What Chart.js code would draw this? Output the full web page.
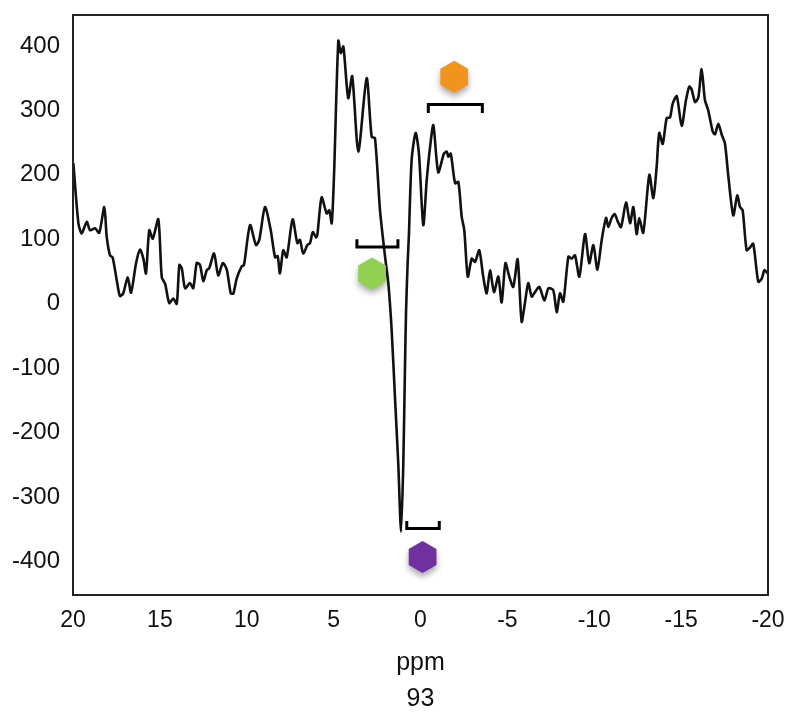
<!DOCTYPE html>
<html>
<head>
<meta charset="utf-8">
<script src="https://cdn.jsdelivr.net/npm/chart.js@4"></script>
<style>
  html, body { margin: 0; padding: 0; background: #fff; }
  #wrap { width: 789px; height: 717px; }
</style>
</head>
<body>
<div id="wrap"><canvas id="spec"></canvas></div>
<script>
// spectrum (ppm, intensity)
const ppm = [
  19.98,19.69,19.50,19.21,19.02,18.73,18.49,18.20,18.06,17.87,
  17.72,17.48,17.30,17.11,16.85,16.66,16.37,16.14,15.95,15.80,
  15.61,15.41,15.09,14.89,14.70,14.46,14.23,14.03,13.88,13.74,
  13.55,13.27,13.08,12.88,12.69,12.50,12.30,12.16,11.88,11.64,
  11.38,11.15,10.92,10.77,10.58,10.29,10.16,9.81,9.47,9.28,
  8.95,8.62,8.37,8.22,8.09,7.90,7.70,7.36,7.09,6.94,
  6.75,6.51,6.36,6.20,6.01,5.94,5.69,5.40,5.25,5.11,
  4.98,4.73,4.59,4.44,4.16,3.93,3.58,3.10,2.81,2.62,
  2.33,2.04,1.85,1.66,1.47,1.28,1.12,0.99,0.89,0.83,
  0.74,0.67,0.51,0.28,0.09,-0.16,-0.36,-0.55,-0.74,-1.02,
  -1.35,-1.51,-1.60,-1.74,-1.99,-2.18,-2.37,-2.52,-2.72,-2.95,
  -3.14,-3.38,-3.61,-3.81,-4.00,-4.23,-4.48,-4.67,-4.89,-5.11,
  -5.34,-5.59,-5.82,-6.01,-6.20,-6.40,-6.59,-6.84,-7.13,-7.36,
  -7.64,-7.84,-8.03,-8.22,-8.51,-8.70,-8.89,-9.14,-9.47,-9.71,
  -9.95,-10.18,-10.43,-10.68,-10.81,-11.00,-11.19,-11.33,-11.54,-11.83,
  -12.06,-12.25,-12.44,-12.59,-12.82,-13.17,-13.40,-13.59,-13.74,-13.94,
  -14.17,-14.36,-14.52,-14.75,-15.03,-15.28,-15.47,-15.61,-15.80,-15.99,
  -16.18,-16.37,-16.56,-16.82,-16.95,-17.14,-17.34,-17.52,-17.72,-18.00,
  -18.23,-18.39,-18.54,-18.77,-18.96,-19.15,-19.44,-19.64,-19.79,-19.98
];
const intensity = [
  218,125,109,127,114,117,110,150,104,75,
  72,36,12,16,41,17,63,84,70,47,
  114,101,131,41,31,1,8,0,60,55,
  24,32,24,63,60,35,52,55,78,44,
  63,53,16,16,39,58,60,122,91,99,
  150,114,72,74,47,83,72,131,94,99,
  78,91,94,111,103,106,165,140,145,125,
  197,408,389,399,319,353,236,350,259,257,
  145,73,31,-41,-145,-248,-354,-248,-93,-10,
  63,105,223,265,233,122,192,243,277,204,
  233,236,228,233,187,189,135,114,42,70,
  65,83,42,16,52,18,42,2,63,42,
  26,69,-28,1,32,11,18,26,5,24,
  21,-13,16,3,73,70,75,42,108,63,
  91,53,99,133,119,133,139,129,119,157,
  125,150,108,133,110,200,164,212,265,248,
  288,289,311,322,276,316,337,332,313,320,
  364,316,300,267,263,279,262,249,197,137,
  168,150,145,83,87,93,34,39,52,47
];

const xTicks = [20, 15, 10, 5, 0, -5, -10, -15, -20];
const yTicks = [400, 300, 200, 100, 0, -100, -200, -300, -400];
const xTitle = ['ppm', '93'];

// brackets: [from ppm, to ppm, bar value, tip value]
const bracketFrom = [3.66, -0.45, 0.79];
const bracketTo = [1.30, -3.56, -1.08];
const bracketBar = [88, 309, -349];
const bracketTip = [100, 296, -337];

// hexagon markers
const markerPpm = [2.79, -1.94, -0.12];
const markerVal = [47, 352, -393];
const markerColor = ['#92d050', '#f0941b', '#7030a0'];

const points = ppm.map((p, i) => ({ x: p, y: intensity[i] }));
const font = 'Liberation Sans, Arial, sans-serif';

const extras = {
  id: 'extras',
  afterDatasetsDraw(chart) {
    const { ctx, chartArea: a, scales: { x, y } } = chart;
    ctx.save();
    // brackets
    ctx.strokeStyle = '#000';
    ctx.lineWidth = 3;
    for (let i = 0; i < bracketFrom.length; i++) {
      const x1 = x.getPixelForValue(bracketFrom[i]);
      const x2 = x.getPixelForValue(bracketTo[i]);
      const yb = y.getPixelForValue(bracketBar[i]);
      const yt = y.getPixelForValue(bracketTip[i]);
      ctx.beginPath();
      ctx.moveTo(x1, yt);
      ctx.lineTo(x1, yb);
      ctx.lineTo(x2, yb);
      ctx.lineTo(x2, yt);
      ctx.stroke();
    }
    // hexagons
    const r = 16;
    for (let i = 0; i < markerPpm.length; i++) {
      const cx = x.getPixelForValue(markerPpm[i]);
      const cy = y.getPixelForValue(markerVal[i]);
      ctx.save();
      ctx.shadowColor = 'rgba(0,0,0,0.35)';
      ctx.shadowBlur = 6;
      ctx.shadowOffsetY = 4;
      ctx.fillStyle = markerColor[i];
      ctx.beginPath();
      for (let k = 0; k < 6; k++) {
        const ang = -Math.PI / 2 + k * Math.PI / 3;
        const px = cx + r * Math.cos(ang);
        const py = cy + r * Math.sin(ang);
        if (k === 0) ctx.moveTo(px, py); else ctx.lineTo(px, py);
      }
      ctx.closePath();
      ctx.fill();
      ctx.restore();
    }
    // frame
    ctx.strokeStyle = '#222';
    ctx.lineWidth = 2;
    ctx.strokeRect(a.left, a.top, a.right - a.left, a.bottom - a.top);
    ctx.restore();
  }
};

new Chart(document.getElementById('spec'), {
  type: 'line',
  data: {
    datasets: [{
      data: points,
      borderColor: '#111',
      borderWidth: 2.6,
      pointRadius: 0,
      tension: 0.25,
      fill: false
    }]
  },
  options: {
    responsive: true,
    maintainAspectRatio: false,
    animation: false,
    layout: { padding: { top: 15, right: 21, left: 0, bottom: 0 } },
    plugins: { legend: { display: false }, tooltip: { enabled: false } },
    scales: {
      x: {
        type: 'linear',
        reverse: true,
        min: -20,
        max: 20,
        grid: { display: false, drawTicks: false },
        border: { display: false },
        afterBuildTicks: s => { s.ticks = xTicks.map(v => ({ value: v })); },
        afterFit: s => { s.height = 122; s.paddingLeft = 0; s.paddingRight = 0; },
        ticks: {
          padding: 12,
          color: '#111',
          font: { family: font, size: 23 },
          maxRotation: 0
        },
        title: {
          display: true,
          text: xTitle,
          color: '#111',
          padding: 0,
          font: { family: font, size: 25, lineHeight: 1.45 }
        }
      },
      y: {
        min: -452,
        max: 448,
        grid: { display: false, drawTicks: false },
        border: { display: false },
        afterBuildTicks: s => { s.ticks = yTicks.map(v => ({ value: v })); },
        afterFit: s => { s.width = 73; s.paddingTop = 0; s.paddingBottom = 0; },
        ticks: {
          padding: 13,
          color: '#111',
          font: { family: font, size: 24 }
        }
      }
    }
  },
  plugins: [extras]
});
</script>
</body>
</html>
